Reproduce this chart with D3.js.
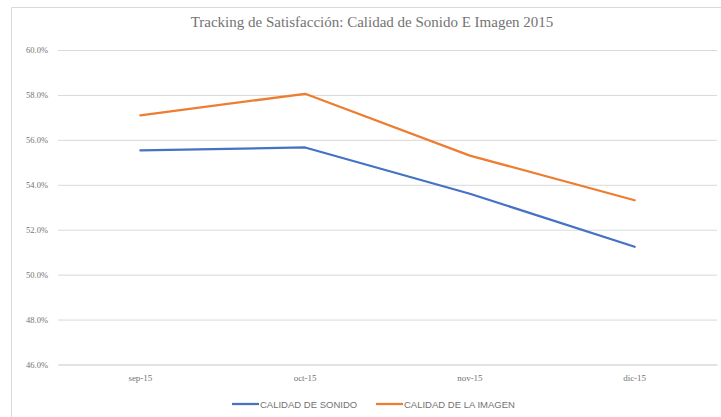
<!DOCTYPE html>
<html><head><meta charset="utf-8">
<script src="https://cdn.jsdelivr.net/npm/d3@7"></script>
<style>html,body{margin:0;padding:0;background:#fff;}svg{display:block;}</style>
</head><body>
<svg id="c" width="721" height="417"></svg>
<script>
const title = "Tracking de Satisfacción: Calidad de Sonido E Imagen 2015";
const categories = ["sep-15", "oct-15", "nov-15", "dic-15"];
const seriesNames = ["CALIDAD DE SONIDO", "CALIDAD DE LA IMAGEN"];
const sonido = [55.53, 55.66, 53.6, 51.24];
const imagen = [57.09, 58.05, 55.3, 53.31];
const yTicks = [46, 48, 50, 52, 54, 56, 58, 60];
const colors = ["#4472C4", "#ED7D31"];

const svg = d3.select("#c");
const W = 721, H = 417;
const m = {left: 58, right: 4, top: 50, bottom: 52.5};
const txtCol = "#737373";

// chart frame (top and left edges visible)
svg.append("line").attr("x1", 11.5).attr("x2", W).attr("y1", 7.5).attr("y2", 7.5).attr("stroke", "#d9d9d9");
svg.append("line").attr("x1", 11.5).attr("x2", 11.5).attr("y1", 7.5).attr("y2", H).attr("stroke", "#d9d9d9");

const x = d3.scaleBand().domain(categories).range([m.left, W - m.right]);
const y = d3.scaleLinear().domain([46, 60]).range([H - m.bottom, m.top]);

// gridlines
const yAxis = d3.axisLeft(y).tickValues(yTicks).tickSize(-(W - m.right - m.left)).tickPadding(10)
  .tickFormat(d => d.toFixed(1) + "%");
const gy = svg.append("g").attr("transform", `translate(${m.left},0)`).call(yAxis);
gy.select(".domain").remove();
gy.selectAll(".tick line").attr("stroke", "#d9d9d9").attr("stroke-width", 1);
gy.selectAll(".tick text").attr("fill", txtCol).style("font-family", "'Liberation Serif', serif").style("font-size", "8.5px");

const xAxis = d3.axisBottom(x).tickSize(0).tickPadding(10);
const gx = svg.append("g").attr("transform", `translate(0,${H - m.bottom})`).call(xAxis);
gx.select(".domain").attr("stroke", "#d9d9d9");
gx.selectAll(".tick text").attr("fill", txtCol).style("font-family", "'Liberation Serif', serif").style("font-size", "9px");

// lines
const line = d3.line().x((d, i) => x(categories[i]) + x.bandwidth() / 2).y(d => y(d));
[sonido, imagen].forEach((s, k) => {
  svg.append("path").datum(s).attr("d", line).attr("fill", "none")
    .attr("stroke", colors[k]).attr("stroke-width", 2.25).attr("stroke-linejoin", "round").attr("stroke-linecap", "round");
});

// title
svg.append("text").attr("x", 372).attr("y", 27).attr("text-anchor", "middle")
  .attr("fill", txtCol).style("font-family", "'Liberation Serif', serif").style("font-size", "15px").text(title);

// legend
const lg = svg.append("g");
const legX = [232, 376];
seriesNames.forEach((n, k) => {
  lg.append("line").attr("x1", legX[k]).attr("x2", legX[k] + 27).attr("y1", 404).attr("y2", 404)
    .attr("stroke", colors[k]).attr("stroke-width", 2.25);
  lg.append("text").attr("x", legX[k] + 28).attr("y", 407.5).attr("fill", txtCol)
    .style("font-family", "'Liberation Sans Narrow', 'Liberation Sans', sans-serif").style("font-size", "9.5px").text(n);
});
</script>
</body></html>
